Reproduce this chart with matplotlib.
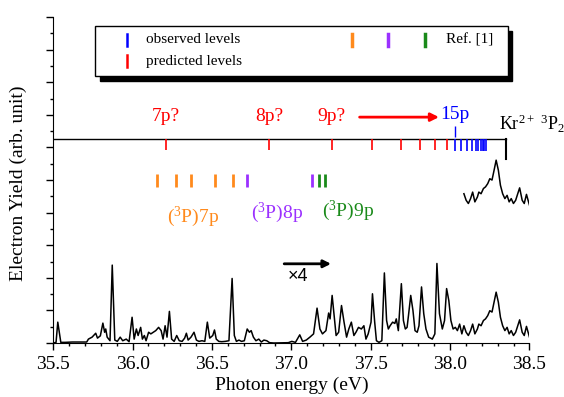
import numpy as np
import matplotlib
matplotlib.use("Agg")
import matplotlib.pyplot as plt
from matplotlib.patches import Rectangle
from matplotlib.ticker import MultipleLocator

plt.rcParams['font.family'] = ['Liberation Serif', 'DejaVu Serif']
plt.rcParams['mathtext.fontset'] = 'custom'
plt.rcParams['mathtext.rm'] = 'Liberation Serif'
plt.rcParams['mathtext.it'] = 'Liberation Serif:italic'

# electron yield spectrum (above ~37.0 eV it is the x4 trace)
energy = [35.502, 35.518, 35.529, 35.548, 35.575, 35.62, 35.711, 35.722, 35.745, 35.768,
          35.779, 35.797, 35.813, 35.824, 35.831, 35.84, 35.858, 35.872, 35.888, 35.904,
          35.922, 35.938, 35.96, 35.978, 35.997, 36.01, 36.024, 36.035, 36.051, 36.062,
          36.074, 36.085, 36.101, 36.115, 36.13, 36.146, 36.164, 36.18, 36.192, 36.205,
          36.217, 36.232, 36.246, 36.262, 36.278, 36.294, 36.312, 36.328, 36.339, 36.35,
          36.368, 36.387, 36.402, 36.418, 36.437, 36.455, 36.471, 36.486, 36.505, 36.516,
          36.527, 36.543, 36.561, 36.584, 36.607, 36.627, 36.641, 36.654, 36.67, 36.686,
          36.704, 36.722, 36.736, 36.747, 36.761, 36.777, 36.795, 36.811, 36.827, 36.845,
          36.863, 36.89, 36.981, 37.003, 37.026, 37.053, 37.071, 37.094, 37.117, 37.14,
          37.162, 37.18, 37.196, 37.218, 37.235, 37.244, 37.257, 37.271, 37.282, 37.298,
          37.316, 37.332, 37.348, 37.362, 37.378, 37.394, 37.407, 37.423, 37.441, 37.457,
          37.47, 37.484, 37.502, 37.511, 37.525, 37.536, 37.552, 37.57, 37.586, 37.6,
          37.611, 37.622, 37.638, 37.652, 37.661, 37.674, 37.693, 37.706, 37.718, 37.729,
          37.738, 37.752, 37.766, 37.779, 37.793, 37.804, 37.82, 37.834, 37.848, 37.865,
          37.888, 37.904, 37.917, 37.933, 37.951, 37.965, 37.978, 37.992, 38.005, 38.019,
          38.033, 38.046, 38.06, 38.074, 38.087, 38.101, 38.115, 38.129, 38.142, 38.156,
          38.172, 38.181, 38.195, 38.21, 38.223, 38.237, 38.25, 38.264, 38.277, 38.29,
          38.304, 38.317, 38.331, 38.345, 38.359, 38.372, 38.385, 38.399, 38.413, 38.426,
          38.438, 38.454, 38.467, 38.481, 38.494, 38.5]
yield_ = [0.0, 0.02, 0.64, 0.02, 0.02, 0.03, 0.03, 0.12, 0.18, 0.30,
          0.15, 0.22, 0.61, 0.33, 0.43, 0.18, 0.07, 2.39, 0.09, 0.05,
          0.18, 0.07, 0.12, 0.04, 0.79, 0.12, 0.43, 0.23, 0.48, 0.12,
          0.23, 0.07, 0.33, 0.28, 0.33, 0.38, 0.48, 0.38, 0.12, 0.53,
          0.18, 0.97, 0.12, 0.05, 0.23, 0.07, 0.05, 0.15, 0.30, 0.09,
          0.18, 0.33, 0.09, 0.05, 0.07, 0.05, 0.64, 0.15, 0.23, 0.40,
          0.12, 0.05, 0.04, 0.05, 0.07, 1.98, 0.23, 0.05, 0.09, 0.05,
          0.07, 0.43, 0.33, 0.38, 0.18, 0.07, 0.12, 0.03, 0.09, 0.07,
          0.01, 0.0, 0.01, 0.05, 0.02, 0.25, 0.05, 0.09, 0.18, 0.28,
          1.07, 0.43, 0.28, 0.38, 0.92, 0.74, 1.46, 0.79, 0.23, 0.33,
          1.15, 0.64, 0.18, 0.43, 0.64, 0.23, 0.33, 0.48, 0.43, 0.53,
          0.12, 0.28, 0.64, 1.51, 0.64, 0.07, 0.02, 0.07, 2.15, 0.69,
          0.43, 0.53, 0.64, 0.60, 0.74, 0.38, 1.82, 0.69, 0.43, 0.48,
          0.85, 1.46, 1.0, 0.38, 0.33, 0.53, 1.72, 0.90, 0.43, 0.18,
          0.12, 0.28, 2.44, 0.90, 0.43, 0.69, 1.67, 1.3, 0.69, 0.43,
          0.48, 0.38, 0.58, 0.28, 0.53, 0.33, 0.23, 0.38, 0.58, 0.28,
          0.43, 0.58, 0.53, 0.69, 0.74, 0.84, 0.99, 0.95, 1.25, 1.56,
          1.25, 0.79, 0.53, 0.38, 0.48, 0.28, 0.38, 0.23, 0.33, 0.53,
          0.71, 0.33, 0.23, 0.51, 0.28, 0.18]

# level positions (eV)
predicted = [36.211, 36.862, 37.254, 37.51, 37.689, 37.812, 37.906, 37.979]
predicted_labels = ['7p?', '8p?', '9p?']
observed = [38.033, 38.07, 38.105, 38.135, 38.16, 38.178, 38.193, 38.206, 38.216, 38.224]
ref_7p = [36.157, 36.275, 36.37, 36.517, 36.635]
ref_8p = [36.719, 37.132]
ref_9p = [37.177, 37.213]
threshold = 38.355

# where the upper part of the spectrum is repeated as an inset
inset_start = 38.08
inset_offset = 4.05

ORANGE = '#ff8a1c'
PURPLE = '#9b30ff'
GREEN = '#1a8a1a'

fig = plt.figure(figsize=(5.64, 3.97), dpi=100)
ax = fig.add_axes([0.0943, 0.136, 0.8445, 0.821])

ev = np.array(energy)
yy = np.array(yield_)
ax.plot(ev, yy, color='black', lw=1.1)

m = ev >= inset_start
ax.plot(ev[m], yy[m] + inset_offset, color='black', lw=1.1)

# level diagram
line_y = 6.27
ax.plot([35.5, threshold], [line_y, line_y], color='black', lw=1.0)
ax.plot([threshold, threshold], [line_y, 5.65], color='black', lw=1.5)
ax.vlines(predicted, 5.93, line_y, color='red', lw=1.2)
ax.vlines(observed, 5.88, line_y, color='blue', lw=1.2)
ax.vlines(observed[0], line_y + 0.05, 6.65, color='blue', lw=1.0)

ax.vlines(ref_7p, 4.78, 5.18, color=ORANGE, lw=2.0)
ax.vlines(ref_8p, 4.78, 5.18, color=PURPLE, lw=2.0)
ax.vlines(ref_9p, 4.78, 5.18, color=GREEN, lw=2.0)

for x, lab in zip(predicted[:3], predicted_labels):
    ax.text(x, 6.96, lab, color='red', fontsize=14, ha='center', va='center')
ax.text(observed[0], 7.0, '15p', color='blue', fontsize=14, ha='center', va='center')
ax.annotate('', xy=(37.93, 6.93), xytext=(37.43, 6.93),
            arrowprops=dict(arrowstyle='-|>', color='red', lw=2.0,
                            mutation_scale=12, shrinkA=0, shrinkB=0))
ax.text(38.305, 6.72, r'Kr$^{2+}$ $^{3}$P$_{2}$', fontsize=13, ha='left', va='center')

ax.text(36.38, 3.87, r'($^{3}$P)7p', color=ORANGE, fontsize=14, ha='center', va='center')
ax.text(36.91, 4.0, r'($^{3}$P)8p', color=PURPLE, fontsize=14, ha='center', va='center')
ax.text(37.36, 4.06, r'($^{3}$P)9p', color=GREEN, fontsize=14, ha='center', va='center')

ax.annotate('', xy=(37.25, 2.43), xytext=(36.955, 2.43),
            arrowprops=dict(arrowstyle='-|>', color='black', lw=2.0,
                            mutation_scale=11, shrinkA=0, shrinkB=0))
ax.text(37.04, 2.05, '\u00d74', fontsize=13, ha='center', va='center',
        family=['Liberation Sans', 'DejaVu Sans'])

# legend box with shadow
bx0, bx1, by0, by1 = 0.0884, 0.955, 0.82, 0.9726
ax.add_patch(Rectangle((bx0 + 0.009, by0 - 0.016), bx1 - bx0, by1 - by0,
                       transform=ax.transAxes, facecolor='black', edgecolor='black',
                       clip_on=False, zorder=5))
ax.add_patch(Rectangle((bx0, by0), bx1 - bx0, by1 - by0, transform=ax.transAxes,
                       facecolor='white', edgecolor='black', lw=1.0,
                       clip_on=False, zorder=6))
legend_rows = [(0.9305, 'blue', 'observed levels'), (0.865, 'red', 'predicted levels')]
for ly, c, lab in legend_rows:
    ax.plot([0.156, 0.156], [ly - 0.018, ly + 0.018], color=c, lw=1.8,
            transform=ax.transAxes, zorder=7, clip_on=False)
    ax.text(0.194, ly, lab, fontsize=11, ha='left', va='center',
            transform=ax.transAxes, zorder=7)
for lx, c in zip([0.628, 0.7025, 0.7796], [ORANGE, PURPLE, GREEN]):
    ax.plot([lx, lx], [0.9305 - 0.018, 0.9305 + 0.018], color=c, lw=2.5,
            transform=ax.transAxes, zorder=7, clip_on=False)
ax.text(0.8247, 0.9305, 'Ref. [1]', fontsize=11, ha='left', va='center',
        transform=ax.transAxes, zorder=7)

ax.set_xlim(35.5, 38.5)
ax.set_ylim(0, 10)
ax.spines['top'].set_visible(False)
ax.spines['right'].set_visible(False)
ax.xaxis.set_major_locator(MultipleLocator(0.5))
ax.xaxis.set_minor_locator(MultipleLocator(0.1))
ax.yaxis.set_major_locator(MultipleLocator(1))
ax.yaxis.set_minor_locator(MultipleLocator(0.5))
ax.set_yticklabels([])
ax.xaxis.set_major_formatter(matplotlib.ticker.FormatStrFormatter('%.1f'))
ax.tick_params(axis='both', which='major', length=5, width=1, direction='out', labelsize=14, pad=4)
ax.tick_params(axis='both', which='minor', length=2.5, width=1, direction='out')
ax.set_xlabel('Photon energy (eV)', fontsize=14, labelpad=3)
ax.set_ylabel('Electron Yield (arb. unit)', fontsize=14)
ax.yaxis.set_label_coords(-0.055, 0.49)

fig.savefig('out.png', dpi=100)
